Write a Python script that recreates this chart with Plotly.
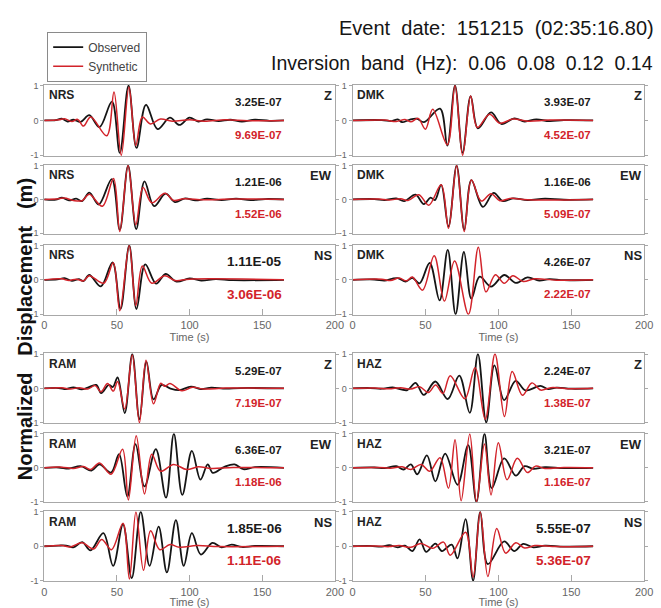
import plotly.graph_objects as go

W, H = 661, 608

STATIONS = ["NRS", "DMK", "RAM", "HAZ"]
COMPONENTS = ["Z", "EW", "NS"]
TIME_TICKS = [0, 50, 100, 150, 200]
AMP_TICKS = [-1, 0, 1]

# Normalized waveforms as (time [s], amplitude) turning points
NRS_Z_OBS = [(0, 0), (8, 0.01), (12, 0.05), (16, -0.03), (20, 0.02), (25, -0.04), (31, 0.15), (38, -0.19),
             (46.6, 0.54), (52, -0.93), (58, 1.0), (63.5, -0.79), (70, 0.45), (78, -0.25), (86.5, 0.08),
             (93, -0.13), (100, 0.08), (106, -0.03), (112, 0.03), (120, -0.02), (128, 0.02), (136, -0.03),
             (145, 0.02), (155, -0.01), (165, 0)]
NRS_Z_SYN = [(0, 0), (10, 0.02), (14, 0.05), (19, -0.03), (23, 0.03), (27, -0.16), (32, 0.1), (43, -0.44),
             (48, 0.82), (53, -1.0), (58.3, 0.96), (63, -0.72), (67.5, 0.1), (73, -0.1), (80, 0.04),
             (88, -0.02), (100, 0.02), (110, -0.02), (125, 0.02), (140, -0.01), (165, 0)]
NRS_EW_OBS = [(0, 0), (8, -0.01), (12, 0.05), (17, -0.03), (22, 0.02), (26, -0.05), (31, 0.2), (37.5, -0.15),
              (46.5, 0.6), (52, -0.9), (57.7, 1.0), (63.3, -0.88), (69, 0.53), (75.6, -0.2), (83.5, 0.17),
              (90, -0.08), (97, 0.03), (104, -0.03), (112, 0.02), (122, -0.02), (132, 0.02), (142, -0.02),
              (152, 0.01), (165, 0)]
NRS_EW_SYN = [(0, 0), (10, 0.02), (14, 0.04), (20, -0.03), (26, -0.04), (31, 0.15), (40, -0.2), (47.7, 0.62),
              (52, -0.95), (57.7, 1.0), (63, -0.75), (68, 0.35), (74, -0.1), (83, 0.18), (89, -0.03),
              (96, 0.02), (110, -0.01), (130, 0.01), (165, 0)]
NRS_NS_OBS = [(0, 0), (9, 0.01), (14, 0.05), (19, -0.03), (24, 0.02), (27, -0.04), (31, 0.14), (39, -0.19),
              (47, 0.51), (52.5, -0.85), (58.5, 1.0), (63.5, -0.85), (69.5, 0.45), (77, -0.11), (83.5, 0.17),
              (91, -0.05), (100, 0.04), (108, -0.02), (118, 0.02), (130, -0.01), (165, 0)]
NRS_NS_SYN = [(0, 0), (12, 0.03), (17, -0.02), (22, 0.02), (27, -0.03), (31, 0.12), (41, -0.1), (47.5, 0.5),
              (52, -0.9), (58.5, 1.0), (63, -0.75), (67.5, 0.4), (74, -0.1), (83, 0.12), (90, -0.02),
              (100, 0.02), (165, 0)]

DMK_Z_OBS = [(0, 0), (20, 0.01), (27, -0.02), (31, 0.03), (34, -0.05), (39, 0.02), (44, 0.05), (49, -0.05),
             (60, 0.34), (65, -0.72), (70.3, 1.0), (75.5, -0.93), (81, 0.7), (86, -0.23), (95, 0.23),
             (102, -0.1), (111, 0.06), (118, -0.03), (126, 0.03), (135, -0.02), (145, 0.01), (165, 0)]
DMK_Z_SYN = [(0, 0), (22, 0.01), (30, -0.03), (36, 0.03), (40, -0.04), (45, 0.06), (50, -0.25), (55, 0.32),
             (65, -0.7), (70.3, 1.0), (75.5, -1.0), (81, 0.7), (85.6, -0.2), (94, 0.18), (101, -0.08),
             (110, 0.04), (120, -0.02), (135, 0.01), (165, 0)]
DMK_EW_OBS = [(0, 0), (15, 0.01), (22, -0.02), (30, 0.03), (35.4, -0.05), (43.2, 0.14), (48.9, -0.14),
              (53.5, 0.05), (56.5, -0.02), (60.8, 0.43), (65.8, -0.8), (71.4, 1.0), (76.6, -0.9), (81.5, 0.57),
              (89.4, -0.22), (96.8, 0.19), (103, -0.05), (110, 0.03), (120, -0.02), (132, 0.02), (145, -0.01),
              (165, 0)]
DMK_EW_SYN = [(0, 0), (18, 0.01), (25, -0.02), (33, 0.02), (38, -0.03), (45.5, 0.14), (52.3, -0.17),
              (60.8, 0.43), (65.8, -0.85), (71.4, 1.0), (76.6, -0.95), (81.5, 0.57), (88.3, -0.05),
              (95, 0.17), (101, -0.04), (108, 0.03), (120, -0.01), (165, 0)]
DMK_NS_OBS = [(0, 0), (15, 0.01), (22, -0.02), (27, 0.03), (31, 0.05), (36.5, -0.05), (41, 0.06), (46, -0.1),
              (52.9, 0.49), (59.7, -0.6), (65.3, 0.87), (70.7, -1.0), (76.4, 0.81), (81.5, -0.55), (87.2, 0.09),
              (95, -0.2), (104, 0.14), (112, -0.09), (120, 0.07), (128, -0.02), (135, 0.02), (145, -0.01),
              (165, 0)]
DMK_NS_SYN = [(0, 0), (20, 0.02), (26, -0.02), (32, 0.05), (37, -0.03), (41, 0.08), (48, -0.3), (56, 0.7),
              (63, -0.62), (70, 0.55), (79.5, -1.0), (86.3, 0.95), (91.5, -0.35), (98, 0.15), (104, -0.1),
              (110, 0.12), (117, -0.05), (125, 0.03), (140, -0.01), (165, 0)]

RAM_Z_OBS = [(0, 0), (10, 0.01), (15, -0.02), (20, 0.03), (25.7, -0.03), (30, 0.02), (35.8, 0.1),
             (39.2, -0.14), (44.4, 0.1), (47.2, 0.04), (50.5, 0.32), (55.4, -0.72), (60.6, 1.0), (65.5, -0.9),
             (70.3, 0.78), (75.2, -0.32), (80.8, 0.1), (86.5, 0.0), (93, -0.05), (101, 0.05), (108, -0.02),
             (115, 0.02), (125, -0.01), (135, 0.01), (165, 0)]
RAM_Z_SYN = [(0, 0), (12, 0.02), (18, -0.02), (24, 0.02), (30, -0.02), (35, 0.08), (39, -0.1), (43.6, 0.14),
             (47.5, -0.08), (50.5, 0.2), (55.4, -0.6), (60.6, 0.97), (65.5, -1.0), (70, 0.82), (75.2, -0.45),
             (80.2, 0.15), (83, 0.06), (86.5, 0.14), (94.7, -0.07), (102, 0.03), (110, -0.02), (125, 0.01),
             (165, 0)]
RAM_EW_OBS = [(0, 0), (10, 0.01), (17, -0.02), (25, 0.05), (32.5, -0.08), (38, 0.1), (46, -0.14),
              (51.5, 0.4), (57.2, -0.85), (62.8, 0.7), (69, -0.55), (76.8, 0.55), (83.8, -0.88), (89.2, 1.0),
              (95, -0.8), (101.6, 0.5), (107.5, -0.35), (112.5, 0.1), (116, -0.15), (124, 0.03), (131, 0.1),
              (137, -0.04), (145, 0.02), (165, 0)]
RAM_EW_SYN = [(0, 0), (12, 0.02), (20, -0.02), (27, 0.04), (32, -0.05), (38, 0.14), (46, -0.19), (53.9, 0.55),
              (57.9, -0.95), (63.3, 0.95), (69, -0.77), (74, 0.4), (80, -0.1), (89, 0.1), (98, -0.05),
              (106, 0.03), (115, -0.02), (130, 0.01), (165, 0)]
RAM_NS_OBS = [(0, 0), (10, 0.02), (15, 0.02), (20, -0.03), (26.2, 0.12), (31.8, -0.12), (40.7, 0.38),
              (47.4, -0.57), (54.2, 0.64), (60.2, -0.93), (66.4, 1.0), (72.5, -0.57), (78.7, 0.57),
              (84.4, -0.76), (90.6, 0.76), (96, -0.57), (101.6, 0.38), (107.8, -0.24), (115.7, 0.1),
              (122, -0.03), (129, 0.05), (136, -0.02), (145, 0.01), (165, 0)]
RAM_NS_SYN = [(0, 0), (12, 0.02), (18, -0.02), (26, 0.1), (34, -0.08), (39.6, 0.2), (46.3, -0.1),
              (54.2, 0.67), (58.6, -0.95), (63.1, 1.0), (68.3, -0.7), (73.2, 0.45), (79.5, -0.1), (86.6, 0.05),
              (93, -0.03), (105, 0.02), (120, -0.01), (165, 0)]

HAZ_Z_OBS = [(0, 0), (12, 0.01), (20, -0.01), (27.5, 0.03), (37.6, -0.05), (43.2, 0.16), (48.9, -0.19),
             (56.8, 0.2), (65.3, -0.31), (73.2, 0.37), (80.4, -0.71), (86, 1.0), (91.7, -0.99), (97.3, 0.67),
             (104, -0.34), (111.9, 0.22), (118.7, -0.06), (128.8, 0.07), (134, -0.02), (140, 0.02),
             (150, -0.01), (165, 0)]
HAZ_Z_SYN = [(0, 0), (15, 0.01), (25, -0.01), (33, 0.02), (40, -0.02), (46, 0.05), (52, -0.12), (57, 0.1),
             (62, -0.15), (67, 0.37), (77, -0.3), (84, 0.6), (91, -0.9), (97.7, 1.0), (104.2, -0.82),
             (109.5, 0.49), (116.5, -0.2), (123, 0.16), (129, -0.05), (136, 0.02), (150, -0.01), (165, 0)]
HAZ_EW_OBS = [(0, 0), (15, 0.01), (22, -0.01), (30, 0.05), (35, -0.05), (40, 0.1), (44.4, -0.19), (51, 0.37),
              (56.8, -0.4), (63.5, 0.42), (72, -0.5), (79.3, 0.67), (85, -1.0), (90.5, 1.0), (95.5, -0.6),
              (104, 0.28), (112, -0.23), (118, 0.05), (124, -0.03), (132, 0.02), (145, -0.01), (165, 0)]
HAZ_EW_SYN = [(0, 0), (18, 0.01), (26, -0.01), (34, 0.03), (40, -0.05), (47, 0.1), (53, -0.1), (60, 0.3),
              (65.8, -0.6), (70.3, 0.83), (74.5, -0.97), (80.4, 1.0), (85, -1.0), (90.5, 0.7), (95, -0.8),
              (100, 0.74), (106, -0.35), (113, 0.28), (120, -0.14), (125.5, 0.05), (132, -0.02), (145, 0.01),
              (165, 0)]
HAZ_NS_OBS = [(0, 0), (12, 0.01), (20, -0.01), (25.2, 0.03), (30.9, -0.03), (36, 0.02), (41, -0.14), (46, 0.2),
              (50.5, -0.16), (56.8, 0.08), (61.3, -0.14), (68, 0.05), (72, -0.35), (77.5, 0.79), (82.7, -1.0),
              (87.6, 1.0), (92.8, -0.52), (104, 0.14), (110.8, -0.14), (117, 0.07), (124, -0.03), (132, 0.02),
              (145, -0.01), (165, 0)]
HAZ_NS_SYN = [(0, 0), (15, 0.01), (25, -0.01), (32, 0.02), (40, -0.03), (47, 0.08), (55, -0.06), (62.4, 0.12),
              (67, -0.26), (77.5, 0.41), (82.7, -0.9), (87.6, 1.0), (92.8, -0.88), (98.9, 0.52), (105, -0.2),
              (112, 0.1), (118, -0.05), (125, 0.02), (140, -0.01), (165, 0)]

# Peak amplitudes (m) used for normalization, per component Z / EW / NS
NRS_OBS_MAX = ["3.25E-07", "1.21E-06", "1.11E-05"]
NRS_SYN_MAX = ["9.69E-07", "1.52E-06", "3.06E-06"]
DMK_OBS_MAX = ["3.93E-07", "1.16E-06", "4.26E-07"]
DMK_SYN_MAX = ["4.52E-07", "5.09E-07", "2.22E-07"]
RAM_OBS_MAX = ["5.29E-07", "6.36E-07", "1.85E-06"]
RAM_SYN_MAX = ["7.19E-07", "1.18E-06", "1.11E-06"]
HAZ_OBS_MAX = ["2.24E-07", "3.21E-07", "5.55E-07"]
HAZ_SYN_MAX = ["1.38E-07", "1.16E-07", "5.36E-07"]

WAVES = {
    "NRS": [(NRS_Z_OBS, NRS_Z_SYN), (NRS_EW_OBS, NRS_EW_SYN), (NRS_NS_OBS, NRS_NS_SYN)],
    "DMK": [(DMK_Z_OBS, DMK_Z_SYN), (DMK_EW_OBS, DMK_EW_SYN), (DMK_NS_OBS, DMK_NS_SYN)],
    "RAM": [(RAM_Z_OBS, RAM_Z_SYN), (RAM_EW_OBS, RAM_EW_SYN), (RAM_NS_OBS, RAM_NS_SYN)],
    "HAZ": [(HAZ_Z_OBS, HAZ_Z_SYN), (HAZ_EW_OBS, HAZ_EW_SYN), (HAZ_NS_OBS, HAZ_NS_SYN)],
}
MAX_LABELS = {
    "NRS": (NRS_OBS_MAX, NRS_SYN_MAX),
    "DMK": (DMK_OBS_MAX, DMK_SYN_MAX),
    "RAM": (RAM_OBS_MAX, RAM_SYN_MAX),
    "HAZ": (HAZ_OBS_MAX, HAZ_SYN_MAX),
}

# Panel frame in pixels (left, right) per column and (top, bottom) per row
COL_PX = [(42, 338), (356, 653)]
ROW_PX = [(82, 154), (163, 233), (244, 315), (354, 425), (435, 505), (514, 585)]

OBS_COLOR = "#151515"
SYN_COLOR = "#d2232a"
FRAME_COLOR = "#a8a8a8"
SANS = "Liberation Sans, Arial, sans-serif"
TICK_FONT = dict(family=SANS, size=9, color="#666666")

fig = go.Figure()
layout = {}
annotations = []

for s, station in enumerate(STATIONS):
    col = s % 2
    block = s // 2
    for c, comp in enumerate(COMPONENTS):
        n = s * 3 + c + 1
        suffix = "" if n == 1 else str(n)
        xa, ya = f"x{suffix}", f"y{suffix}"
        x0, x1 = COL_PX[col]
        y0, y1 = ROW_PX[block * 3 + c]
        bottom = c == 2

        obs, syn = WAVES[station][c]
        for pts, name, color, width in ((obs, "Observed", OBS_COLOR, 1.8), (syn, "Synthetic", SYN_COLOR, 1.5)):
            fig.add_trace(go.Scatter(
                x=[p[0] for p in pts], y=[p[1] for p in pts], mode="lines", name=name,
                line=dict(color=color, width=width, shape="spline", smoothing=1.0),
                xaxis=xa, yaxis=ya, showlegend=(n == 1), hoverinfo="skip",
            ))

        layout[f"xaxis{suffix}"] = dict(
            domain=[x0 / W, x1 / W], anchor=ya, range=[0, 200],
            showline=True, linecolor=FRAME_COLOR, linewidth=1, mirror=True,
            showgrid=False, zeroline=False,
            tickvals=TIME_TICKS, ticks="inside" if bottom else "", ticklen=6, tickcolor=FRAME_COLOR,
            showticklabels=bottom, tickfont=dict(TICK_FONT, size=11),
            title=dict(text="Time (s)" if bottom else "", font=dict(TICK_FONT, size=11), standoff=1),
        )
        layout[f"yaxis{suffix}"] = dict(
            domain=[1 - y1 / H, 1 - y0 / H], anchor=xa, range=[-1.02, 1.02],
            showline=True, linecolor=FRAME_COLOR, linewidth=1, mirror="ticks",
            showgrid=False, zeroline=False,
            tickvals=AMP_TICKS, ticktext=[str(v) for v in AMP_TICKS],
            ticks="outside", ticklen=3, tickcolor=FRAME_COLOR, tickfont=TICK_FONT,
        )

        annotations.append(dict(
            text=f"<b>{station}</b>", xref=f"{xa} domain", yref=f"{ya} domain",
            x=0.01, y=0.98, xanchor="left", yanchor="top", showarrow=False,
            font=dict(family=SANS, size=12, color="#222222"),
        ))
        annotations.append(dict(
            text=f"<b>{comp}</b>", xref=f"{xa} domain", yref=f"{ya} domain",
            x=0.998, y=0.98, xanchor="right", yanchor="top", showarrow=False,
            font=dict(family=SANS, size=13, color="#222222"),
        ))
        obs_lbl, syn_lbl = MAX_LABELS[station]
        big = comp == "NS" and station in ("NRS", "HAZ", "RAM")
        lsize = 13.5 if big else 11.5
        annotations.append(dict(
            text=f"<b>{obs_lbl[c]}</b>", xref=xa, yref=ya, x=165, y=0.52,
            xanchor="right", yanchor="middle", showarrow=False,
            font=dict(family=SANS, size=lsize, color="#1a1a1a"),
        ))
        annotations.append(dict(
            text=f"<b>{syn_lbl[c]}</b>", xref=xa, yref=ya, x=165, y=-0.42,
            xanchor="right", yanchor="middle", showarrow=False,
            font=dict(family=SANS, size=lsize, color=SYN_COLOR),
        ))

sp = "\u00a0\u00a0"
annotations.append(dict(
    text=f"Event{sp}date:{sp}151215{sp}(02:35:16.80)", xref="paper", yref="paper",
    x=665 / W, y=1 - 24 / H, xanchor="right", yanchor="middle", showarrow=False,
    font=dict(family=SANS, size=20, color="#151515"),
))
annotations.append(dict(
    text=f"Inversion{sp}band{sp}(Hz):{sp}0.06{sp}0.08{sp}0.12{sp}0.14", xref="paper", yref="paper",
    x=664 / W, y=1 - 60 / H, xanchor="right", yanchor="middle", showarrow=False,
    font=dict(family=SANS, size=19.5, color="#151515"),
))
sp3 = "\u00a0\u00a0\u00a0"
annotations.append(dict(
    text=f"<b>Normalized{sp3}Displacement{sp3}(m)</b>", xref="paper", yref="paper",
    x=22 / W, y=1 - 330 / H, xanchor="center", yanchor="middle", textangle=-90, showarrow=False,
    font=dict(family=SANS, size=20, color="#111111"),
))

fig.update_layout(
    width=W, height=H, margin=dict(l=0, r=0, t=0, b=0),
    paper_bgcolor="white", plot_bgcolor="white",
    annotations=annotations,
    legend=dict(
        x=45 / W, y=1 - 28 / H, xanchor="left", yanchor="top",
        bordercolor="#8a8a8a", borderwidth=1, bgcolor="white",
        font=dict(family=SANS, size=12, color="#444444"),
        itemwidth=30, tracegroupgap=0,
    ),
    **layout,
)

fig.write_html("out.html")
